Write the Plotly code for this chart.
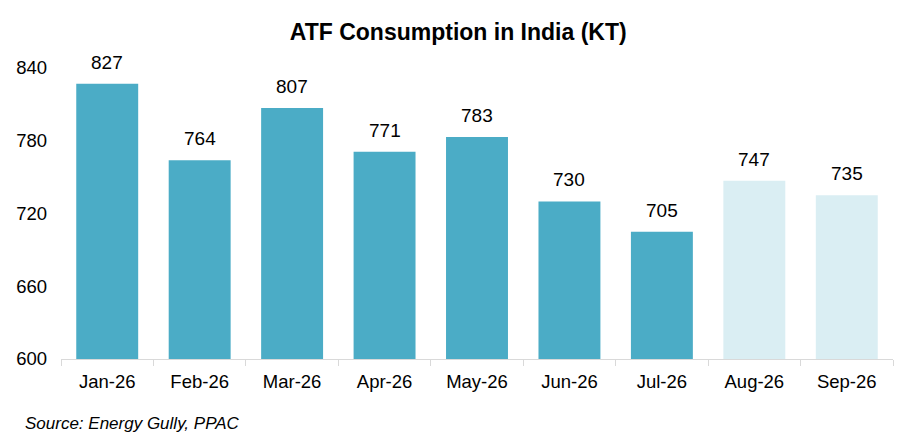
import plotly.graph_objects as go

months = ["Jan-26", "Feb-26", "Mar-26", "Apr-26", "May-26", "Jun-26", "Jul-26", "Aug-26", "Sep-26"]
consumption = [827, 764, 807, 771, 783, 730, 705, 747, 735]
is_forecast = [False, False, False, False, False, False, False, True, True]
y_ticks = [600, 660, 720, 780, 840]

bar_colors = ["#DAEEF3" if f else "#4BACC6" for f in is_forecast]

trace = go.Bar(
    x=months,
    y=consumption,
    marker=dict(color=bar_colors, line=dict(width=0)),
    hoverinfo="x+y",
)

# value labels sit a little above each bar
value_labels = [
    dict(
        x=m, y=v, text=str(v),
        xref="x", yref="y",
        yanchor="bottom", yshift=9,
        showarrow=False,
        font=dict(family="Arial", size=19, color="black"),
    )
    for m, v in zip(months, consumption)
]

source_note = dict(
    text="<i>Source: Energy Gully, PPAC</i>",
    xref="paper", yref="paper",
    x=-0.046, y=-0.22,
    xanchor="left", yanchor="middle",
    showarrow=False,
    font=dict(family="Arial", size=17, color="black"),
)

layout = go.Layout(
    title=dict(
        text="<b>ATF Consumption in India (KT)</b>",
        x=0.491,
        xanchor="center",
        y=0.946,
        yanchor="middle",
        font=dict(family="Arial", size=23, color="black"),
    ),
    font=dict(family="Arial", color="black"),
    xaxis=dict(
        tickfont=dict(size=18.5),
        showline=True,
        linecolor="#D9D9D9",
        linewidth=1,
        ticks="outside",
        tickson="boundaries",
        ticklen=6,
        tickcolor="#D9D9D9",
        showgrid=False,
        ticklabelstandoff=6,
    ),
    yaxis=dict(
        range=[600, 840],
        tickvals=y_ticks,
        tickfont=dict(size=18.5),
        showgrid=False,
        zeroline=False,
        showline=False,
        ticklabelstandoff=13,
        automargin=False,
    ),
    bargap=0.33,
    plot_bgcolor="white",
    paper_bgcolor="white",
    width=917,
    height=444,
    margin=dict(l=53, r=32, t=60, b=93),
    showlegend=False,
    annotations=value_labels + [source_note],
)

fig = go.Figure(data=[trace], layout=layout)
fig.write_html("out.html")
